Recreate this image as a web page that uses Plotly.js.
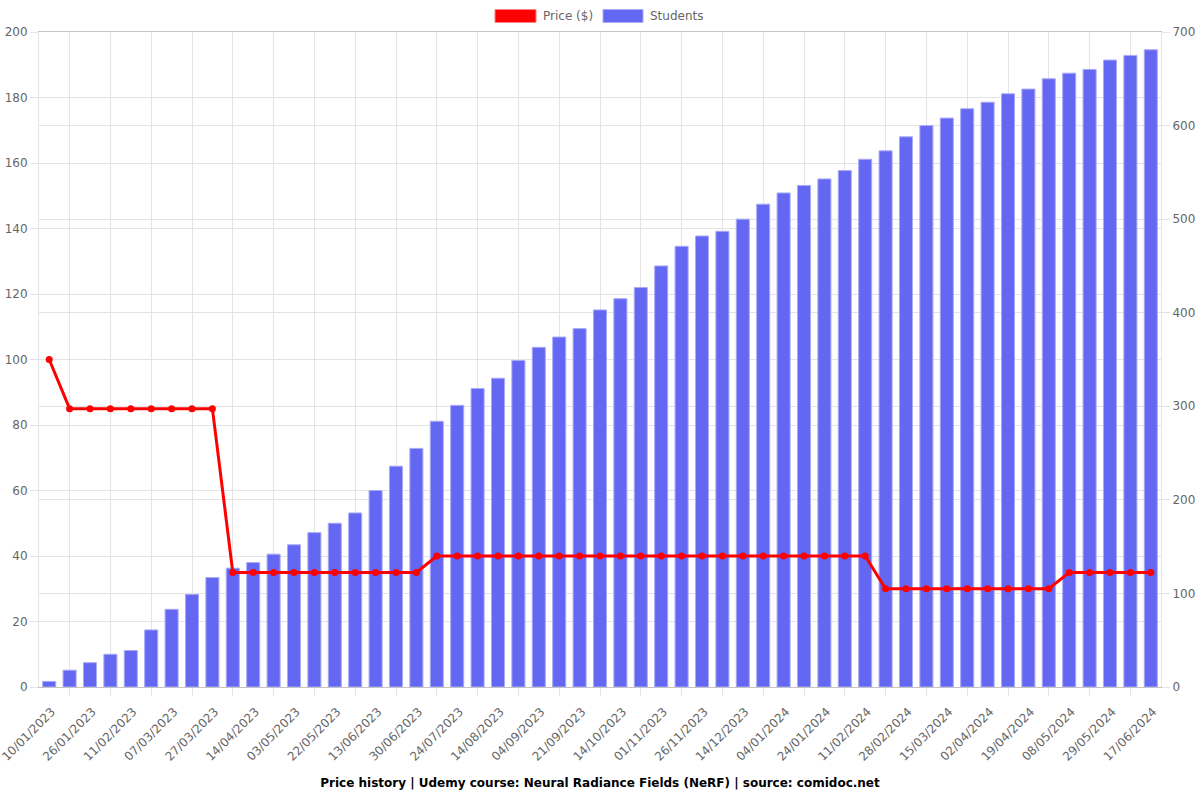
<!DOCTYPE html>
<html>
<head>
<meta charset="utf-8">
<script src="https://cdn.plot.ly/plotly-3.0.1.min.js"></script>
<style>
  html, body { margin: 0; padding: 0; background: #fff; }
  #chart { width: 1200px; height: 800px; }
</style>
</head>
<body>
<div id="chart"></div>
<script>
// Tick labels shown on the x axis (every other data point)
const tickLabels = ['10/01/2023','26/01/2023','11/02/2023','07/03/2023','27/03/2023','14/04/2023',
  '03/05/2023','22/05/2023','13/06/2023','30/06/2023','24/07/2023','14/08/2023','04/09/2023',
  '21/09/2023','14/10/2023','01/11/2023','26/11/2023','14/12/2023','04/01/2024','24/01/2024',
  '11/02/2024','28/02/2024','15/03/2024','02/04/2024','19/04/2024','08/05/2024','29/05/2024',
  '17/06/2024'];

// Price in USD for each of the 55 snapshots
const price = [100,
  85,85,85,85,85,85,85,85,
  35,35,35,35,35,35,35,35,35,35,
  40,40,40,40,40,40,40,40,40,40,40,40,40,40,40,40,40,40,40,40,40,40,
  30,30,30,30,30,30,30,30,30,
  35,35,35,35,35];

// Number of students for each snapshot
const students = [6,18,26,35,39,61,83,99,117,127,
  133,142,152,165,175,186,210,236,255,284,
  301,319,330,349,363,374,383,403,415,427,
  450,471,482,487,500,516,528,536,543,552,
  564,573,588,600,608,618,625,634,639,650,
  656,660,670,675,681];

const seriesNames = ['Price ($)', 'Students'];
const chartTitle = 'Price history | Udemy course: Neural Radiance Fields (NeRF) | source: comidoc.net';

const idx = students.map((_, i) => i);
const labelPos = tickLabels.map((_, k) => 2 * k + 0.12);
const gridPos = [];
for (let i = 1; i < students.length; i += 2) gridPos.push(i);

const FONT = 'DejaVu Sans, Verdana, sans-serif';
const GRID = '#e4e4e4';
const BAR = '#6467f2';
const RED = '#ff0000';

const traces = [
  {
    type: 'bar', name: seriesNames[1], x: idx, y: students,
    xaxis: 'x', yaxis: 'y',
    width: 0.64,
    marker: { color: BAR, line: { color: '#a9abf8', width: 1 } },
    showlegend: false, hoverinfo: 'y'
  },
  {
    type: 'scatter', mode: 'lines+markers', name: seriesNames[0], x: idx, y: price,
    xaxis: 'x', yaxis: 'y2',
    line: { color: RED, width: 3 },
    marker: { color: RED, size: 7 },
    showlegend: false, hoverinfo: 'y'
  },
  {
    // carrier for the grid-only x axis
    type: 'scatter', mode: 'markers', x: [0], y: [null], xaxis: 'x2', yaxis: 'y',
    showlegend: false, hoverinfo: 'skip'
  }
];

const n = students.length;
const L = 39, R = 39, T = 32, B = 113;
const plotW = 1200 - L - R, plotH = 800 - T - B;
const px = v => (v - L) / plotW;
const py = v => (800 - B - v) / plotH;

const layout = {
  width: 1200, height: 800,
  margin: { l: L, r: R, t: T, b: B, pad: 0 },
  paper_bgcolor: '#ffffff', plot_bgcolor: '#ffffff',
  font: { family: FONT, size: 12, color: '#666666' },
  showlegend: false,
  title: {
    text: '<b>' + chartTitle + '</b>',
    font: { family: FONT, size: 12, color: '#000000' },
    x: 0.5, xanchor: 'center', xref: 'paper',
    y: 17 / 800, yanchor: 'middle', yref: 'container'
  },
  xaxis: {
    type: 'linear', range: [-0.5, n - 0.5], fixedrange: true,
    tickmode: 'array', tickvals: labelPos, ticktext: tickLabels,
    tickangle: -45, ticks: 'outside', ticklen: 12, tickcolor: 'rgba(0,0,0,0)',
    ticklabeloverflow: 'allow',
    showgrid: false, zeroline: false, showline: false,
    tickfont: { family: FONT, size: 12, color: '#666666' }
  },
  xaxis2: {
    type: 'linear', range: [-0.5, n - 0.5], overlaying: 'x', matches: 'x',
    tickmode: 'array', tickvals: gridPos, showticklabels: false,
    ticks: 'outside', ticklen: 8, tickcolor: GRID, tickwidth: 1,
    showgrid: true, gridcolor: GRID, gridwidth: 1, zeroline: false,
    showline: true, linecolor: '#c4c4c4', linewidth: 1, mirror: true
  },
  yaxis: {
    side: 'right', range: [0, 700], tick0: 0, dtick: 100,
    ticks: 'outside', ticklen: 8, tickcolor: GRID,
    showgrid: true, gridcolor: GRID, zeroline: false,
    showline: true, linecolor: GRID,
    tickfont: { family: FONT, size: 12, color: '#666666' }
  },
  yaxis2: {
    side: 'left', overlaying: 'y', range: [0, 200], tick0: 0, dtick: 20,
    ticks: 'outside', ticklen: 8, tickcolor: GRID,
    showgrid: true, gridcolor: GRID, zeroline: false,
    showline: true, linecolor: GRID,
    tickfont: { family: FONT, size: 12, color: '#666666' }
  },
  shapes: [
    { type: 'rect', xref: 'paper', yref: 'paper',
      x0: px(495), x1: px(536), y0: py(9.5), y1: py(22.5),
      fillcolor: RED, line: { color: '#ff8080', width: 1 } },
    { type: 'rect', xref: 'paper', yref: 'paper',
      x0: px(603), x1: px(643), y0: py(9.5), y1: py(22.5),
      fillcolor: BAR, line: { color: '#a9abf8', width: 1 } }
  ],
  annotations: [
    { xref: 'paper', yref: 'paper', x: px(541), y: py(16), xanchor: 'left', yanchor: 'middle',
      text: seriesNames[0], showarrow: false, font: { family: FONT, size: 12, color: '#666666' } },
    { xref: 'paper', yref: 'paper', x: px(648), y: py(16), xanchor: 'left', yanchor: 'middle',
      text: seriesNames[1], showarrow: false, font: { family: FONT, size: 12, color: '#666666' } }
  ]
};

Plotly.newPlot('chart', traces, layout, { displayModeBar: false, staticPlot: true });
</script>
</body>
</html>
